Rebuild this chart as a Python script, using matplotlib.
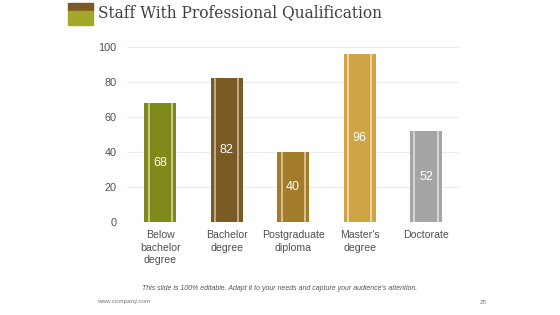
import matplotlib.pyplot as plt
from matplotlib.patches import Rectangle

categories = ["Below\nbachelor\ndegree", "Bachelor\ndegree", "Postgraduate\ndiploma", "Master's\ndegree", "Doctorate"]
values = [68, 82, 40, 96, 52]
colors = ["#7f8a1b", "#7a5b24", "#a27b2b", "#cfa444", "#a5a5a5"]
stripe_colors = ["#c2c98a", "#c0a886", "#d6bf8c", "#ecd49b", "#d4d4d4"]
yticks = [0, 20, 40, 60, 80, 100]

sans = "Liberation Sans"

fig = plt.figure(figsize=(5.6, 3.15), dpi=100)
ax = fig.add_axes([0.227, 0.295, 0.593, 0.556])

x = list(range(len(values)))
bw = 0.48
ax.bar(x, values, width=bw, color=colors, zorder=2)
for off in (-0.175, 0.175):
    ax.bar([i + off for i in x], values, width=0.03, color=stripe_colors, zorder=3)

for i, v in enumerate(values):
    ax.text(i, v / 2, str(v), ha="center", va="center", color="white", fontsize=9,
            family=sans, zorder=4)

ax.set_xlim(-0.5, 4.5)
ax.set_ylim(0, 100)
ax.set_yticks(yticks)
ax.set_xticks(x)
ax.set_xticklabels(categories, fontsize=7.6, color="#505050", linespacing=1.35, family=sans)
for lab in ax.get_yticklabels():
    lab.set_family(sans)
ax.tick_params(axis="y", labelsize=7.8, labelcolor="#505050", length=0, pad=7.5)
ax.tick_params(axis="x", length=0, pad=5.5)
ax.grid(axis="y", color="#ececec", linewidth=0.8, zorder=0)
for s in ax.spines.values():
    s.set_visible(False)

# title with icon
fig.patches.append(Rectangle((68 / 560, 1 - 11 / 315), 25 / 560, 8 / 315,
                             transform=fig.transFigure, color="#7a5b24"))
fig.patches.append(Rectangle((68 / 560, 1 - 25 / 315), 25 / 560, 14 / 315,
                             transform=fig.transFigure, color="#a4a828"))
fig.text(98 / 560, 1 - 13 / 315, "Staff With Professional Qualification", fontsize=11.2,
         family="DejaVu Serif", color="#404040", va="center", ha="left")

fig.text(280 / 560, 1 - 288 / 315,
         "This slide is 100% editable. Adapt it to your needs and capture your audience's attention.",
         fontsize=5, style="italic", color="#555555", ha="center", va="center", family=sans)
fig.text(97 / 560, 1 - 302 / 315, "www.company.com", fontsize=4.5, color="#777777",
         ha="left", va="center", family=sans)
fig.text(483 / 560, 1 - 302 / 315, "25", fontsize=4.5, color="#777777", ha="center",
         va="center", family=sans)

fig.savefig("out.png", dpi=100, facecolor="white")
